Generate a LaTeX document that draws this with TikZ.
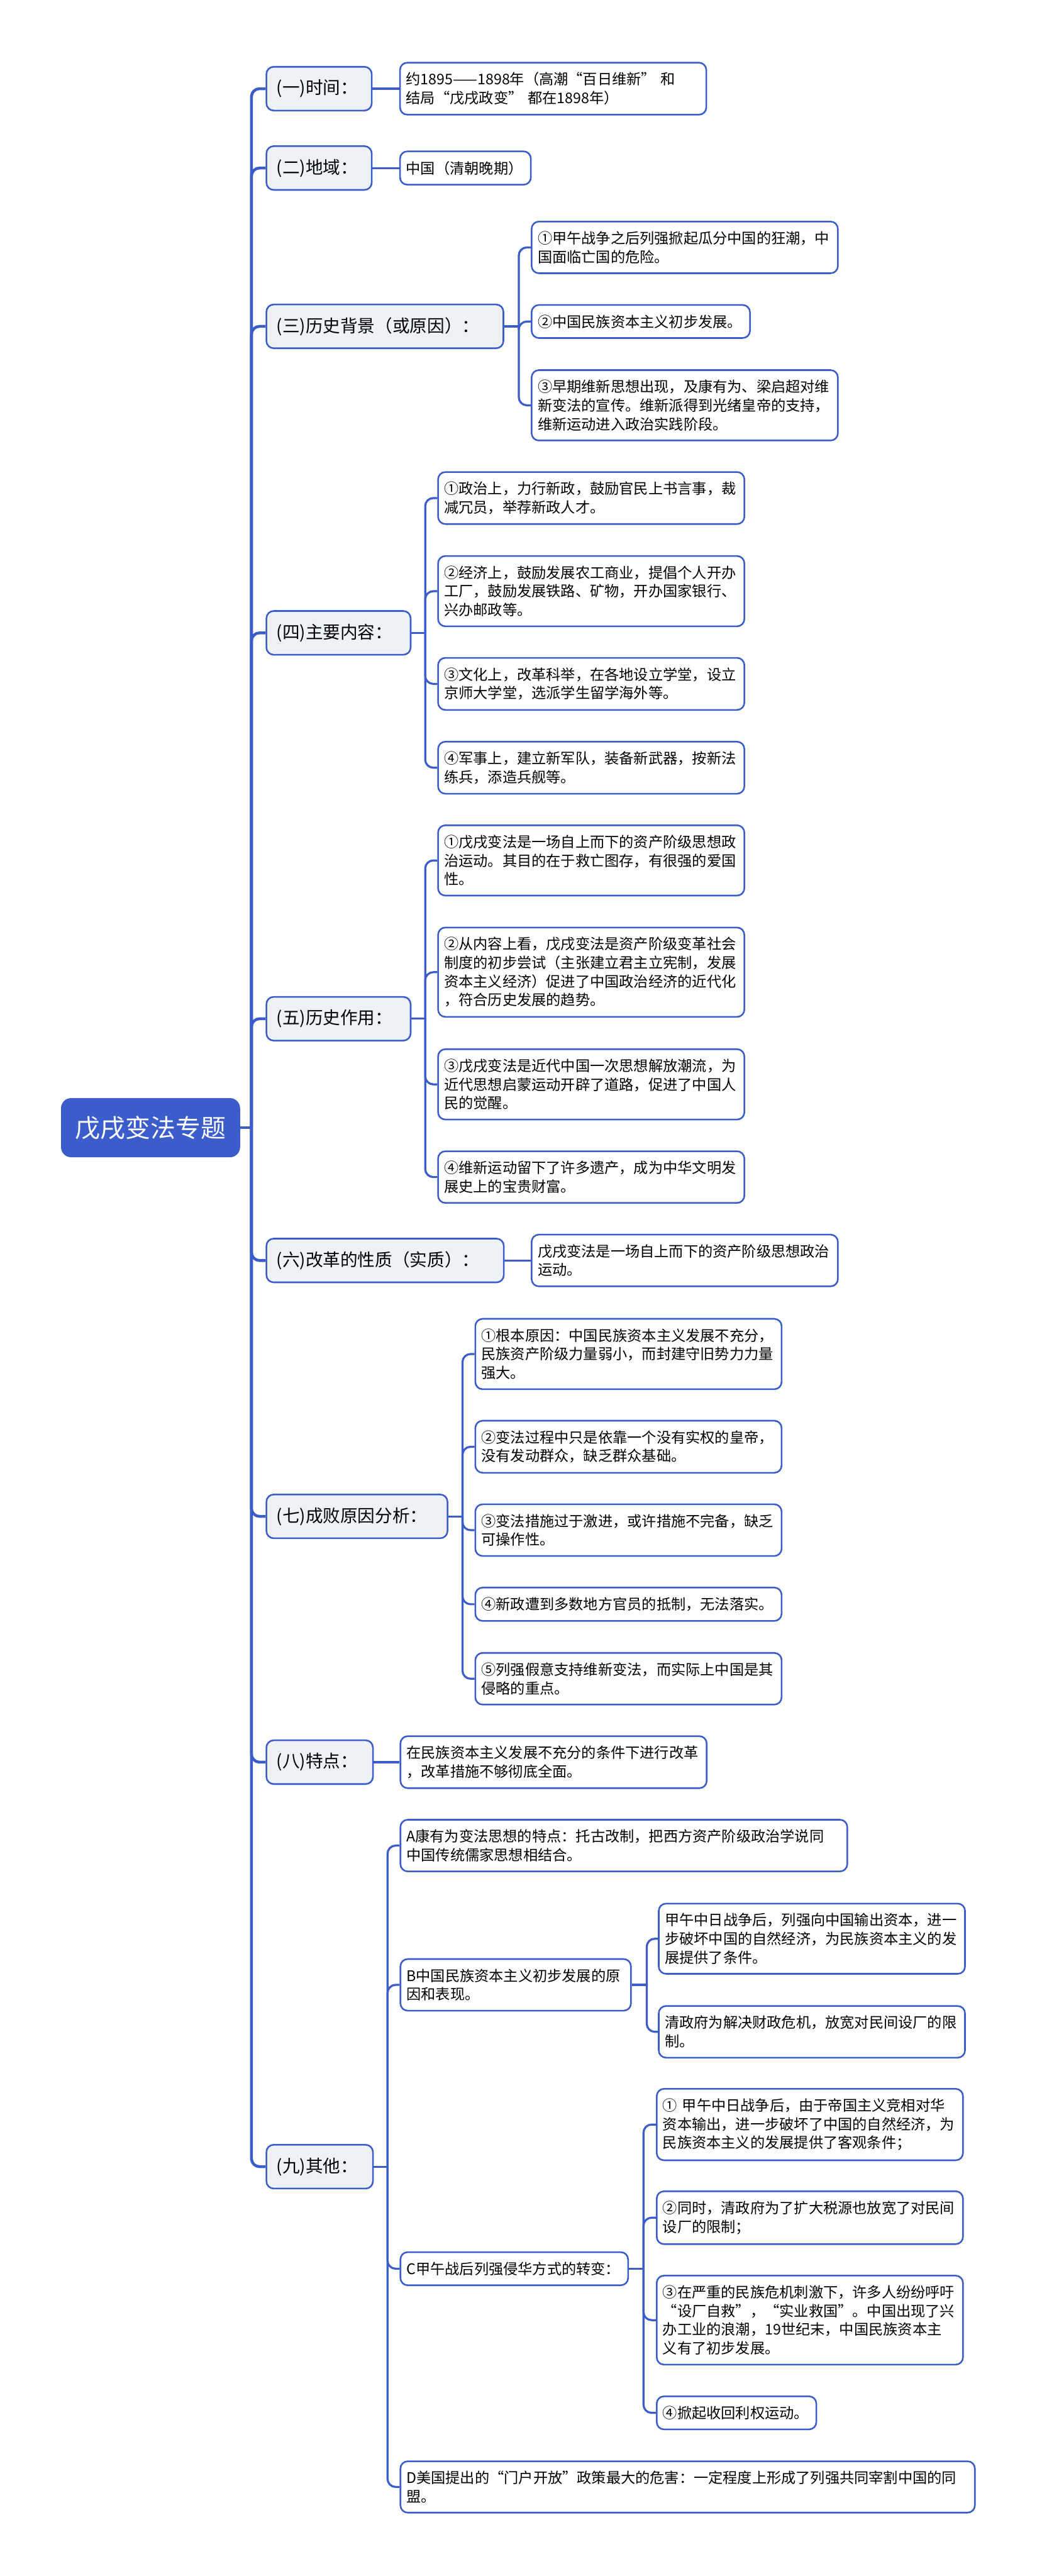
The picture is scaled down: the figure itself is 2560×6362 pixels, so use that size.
\documentclass[tikz,border=0pt]{standalone}
\usepackage{fontspec}
\setmainfont{Noto Sans CJK SC}
\definecolor{mapblue}{HTML}{3B5CCB}
\definecolor{topicgray}{HTML}{EEF1F6}
\newcommand{\rootfont}{\fontsize{17.6pt}{21pt}\selectfont}
\newcommand{\topicfont}{\fontsize{12.2pt}{15pt}\selectfont}
\newcommand{\leaffont}{\fontsize{10.25pt}{13.1pt}\selectfont}

\begin{document}
\begin{tikzpicture}[x=0.01cm, y=-0.01cm,
	root/.style={fill=mapblue, text=white, rounded corners=0.25cm, font=\rootfont, minimum width=4.42cm, minimum height=1.46cm, anchor=west},
	topic/.style={draw=mapblue, line width=0.04cm, fill=topicgray, rounded corners=0.18cm, font=\topicfont, text width=#1, align=left, inner xsep=0.25cm, minimum height=1.08cm, anchor=west},
	leaf/.style={draw=mapblue, line width=0.04cm, fill=white, rounded corners=0.18cm, font=\leaffont, text width=#1, align=left, inner xsep=0.15cm, inner ysep=0.24cm, anchor=west},
	leaf/.default=7.26cm,
	link/.style={draw=mapblue, line width=0.05cm, rounded corners=0.2cm},
	trunk/.style={link, line width=0.07cm}]

			\useasboundingbox (0,0) rectangle (2560,6362);

			\node[root] (root) at (150,2785) {戊戌变法专题};

			% first level
			\node[topic=2.10cm] (t1) at (656,219) {(一)时间：};
			\node[topic=2.10cm] (t2) at (656,415) {(二)地域：};
			\node[topic=5.35cm] (t3) at (656,806) {(三)历史背景（或原因）：};
			\node[topic=3.06cm] (t4) at (656,1563) {(四)主要内容：};
			\node[topic=3.06cm] (t5) at (656,2516) {(五)历史作用：};
			\node[topic=5.36cm] (t6) at (656,3113) {(六)改革的性质（实质）：};
			\node[topic=3.97cm] (t7) at (656,3745) {(七)成败原因分析：};
			\node[topic=2.13cm] (t8) at (656,4352) {(八)特点：};
			\node[topic=2.13cm] (t9) at (656,5351) {(九)其他：};

			\draw[trunk] (root.east) -- (621,2785) coordinate (jr);
			\foreach \t in {t1,t2,t3,t4,t5,t6,t7,t8,t9}
				\draw[trunk] (jr) |- (\t.west);

			% (一) (二)
			\node[leaf] (t1a) at (986,219) {约1895——1898年（高潮“百日维新” 和\\结局“戊戌政变” 都在1898年）};
			\node[leaf=2.93cm] (t2a) at (986,415) {中国（清朝晚期）};
			\draw[link] (t1.east) -- (t1a.west);
			\draw[link] (t2.east) -- (t2a.west);

			% (三)
			\node[leaf] (t3a) at (1311,611) {①甲午战争之后列强掀起瓜分中国的狂潮，中\\国面临亡国的危险。};
			\node[leaf=5.09cm] (t3b) at (1311,794) {②中国民族资本主义初步发展。};
			\node[leaf] (t3c) at (1311,1001) {③早期维新思想出现，及康有为、梁启超对维\\新变法的宣传。维新派得到光绪皇帝的支持，\\维新运动进入政治实践阶段。};
			\draw[link] (t3.east) -- ++(36,0) coordinate (j3);
			\foreach \k in {a,b,c}
				\draw[link] (j3) |- (t3\k.west);

			% (四)
			\node[leaf] (t4a) at (1080,1230) {①政治上，力行新政，鼓励官民上书言事，裁\\减冗员，举荐新政人才。};
			\node[leaf] (t4b) at (1080,1460) {②经济上，鼓励发展农工商业，提倡个人开办\\工厂，鼓励发展铁路、矿物，开办国家银行、\\兴办邮政等。};
			\node[leaf] (t4c) at (1080,1689) {③文化上，改革科举，在各地设立学堂，设立\\京师大学堂，选派学生留学海外等。};
			\node[leaf] (t4d) at (1080,1896) {④军事上，建立新军队，装备新武器，按新法\\练兵，添造兵舰等。};
			\draw[link] (t4.east) -- ++(34,0) coordinate (j4);
			\foreach \k in {a,b,c,d}
				\draw[link] (j4) |- (t4\k.west);

			% (五)
			\node[leaf] (t5a) at (1080,2125) {①戊戌变法是一场自上而下的资产阶级思想政\\治运动。其目的在于救亡图存，有很强的爱国\\性。};
			\node[leaf] (t5b) at (1080,2401) {②从内容上看，戊戌变法是资产阶级变革社会\\制度的初步尝试（主张建立君主立宪制，发展\\资本主义经济）促进了中国政治经济的近代化\\，符合历史发展的趋势。};
			\node[leaf] (t5c) at (1080,2678) {③戊戌变法是近代中国一次思想解放潮流，为\\近代思想启蒙运动开辟了道路，促进了中国人\\民的觉醒。};
			\node[leaf] (t5d) at (1080,2907) {④维新运动留下了许多遗产，成为中华文明发\\展史上的宝贵财富。};
			\draw[link] (t5.east) -- ++(34,0) coordinate (j5);
			\foreach \k in {a,b,c,d}
				\draw[link] (j5) |- (t5\k.west);

			% (六)
			\node[leaf] (t6a) at (1311,3113) {戊戌变法是一场自上而下的资产阶级思想政治\\运动。};
			\draw[link] (t6.east) -- (t6a.west);

			% (七)
			\node[leaf] (t7a) at (1172,3344) {①根本原因：中国民族资本主义发展不充分，\\民族资产阶级力量弱小，而封建守旧势力力量\\强大。};
			\node[leaf] (t7b) at (1172,3573) {②变法过程中只是依靠一个没有实权的皇帝，\\没有发动群众，缺乏群众基础。};
			\node[leaf] (t7c) at (1172,3779) {③变法措施过于激进，或许措施不完备，缺乏\\可操作性。};
			\node[leaf] (t7d) at (1172,3962) {④新政遭到多数地方官员的抵制，无法落实。};
			\node[leaf] (t7e) at (1172,4146) {⑤列强假意支持维新变法，而实际上中国是其\\侵略的重点。};
			\draw[link] (t7.east) -- ++(35,0) coordinate (j7);
			\foreach \k in {a,b,c,d,e}
				\draw[link] (j7) |- (t7\k.west);

			% (八)
			\node[leaf] (t8a) at (987,4352) {在民族资本主义发展不充分的条件下进行改革\\，改革措施不够彻底全面。};
			\draw[link] (t8.east) -- (t8a.west);

			% (九)
			\node[leaf=10.73cm] (t9a) at (987,4558) {A康有为变法思想的特点：托古改制，把西方资产阶级政治学说同\\中国传统儒家思想相结合。};
			\node[leaf=5.39cm] (t9b) at (987,4902) {B中国民族资本主义初步发展的原\\因和表现。};
			\node[leaf=5.32cm] (t9c) at (987,5603) {C甲午战后列强侵华方式的转变：};
			\node[leaf=13.88cm] (t9d) at (987,6142) {D美国提出的“门户开放”政策最大的危害：一定程度上形成了列强共同宰割中国的同\\盟。};
			\draw[link] (t9.east) -- ++(34,0) coordinate (j9);
			\foreach \k in {a,b,c,d}
				\draw[link] (j9) |- (t9\k.west);

			\node[leaf] (t9ba) at (1625,4788) {甲午中日战争后，列强向中国输出资本，进一\\步破坏中国的自然经济，为民族资本主义的发\\展提供了条件。};
			\node[leaf] (t9bb) at (1625,5018) {清政府为解决财政危机，放宽对民间设厂的限\\制。};
			\draw[link] (t9b.east) -- ++(37,0) coordinate (jb);
			\foreach \k in {a,b}
				\draw[link] (jb) |- (t9b\k.west);

			\node[leaf] (t9ca) at (1620,5247) {① 甲午中日战争后，由于帝国主义竞相对华\\资本输出，进一步破坏了中国的自然经济，为\\民族资本主义的发展提供了客观条件；};
			\node[leaf] (t9cb) at (1620,5477) {②同时，清政府为了扩大税源也放宽了对民间\\设厂的限制；};
			\node[leaf] (t9cc) at (1620,5730) {③在严重的民族危机刺激下，许多人纷纷呼吁\\“设厂自救”，“实业救国”。中国出现了兴\\办工业的浪潮，19世纪末，中国民族资本主\\义有了初步发展。};
			\node[leaf=3.64cm] (t9cd) at (1620,5959) {④掀起收回利权运动。};
			\draw[link] (t9c.east) -- ++(36,0) coordinate (jc);
			\foreach \k in {a,b,c,d}
				\draw[link] (jc) |- (t9c\k.west);

		\end{tikzpicture}
\end{document}
